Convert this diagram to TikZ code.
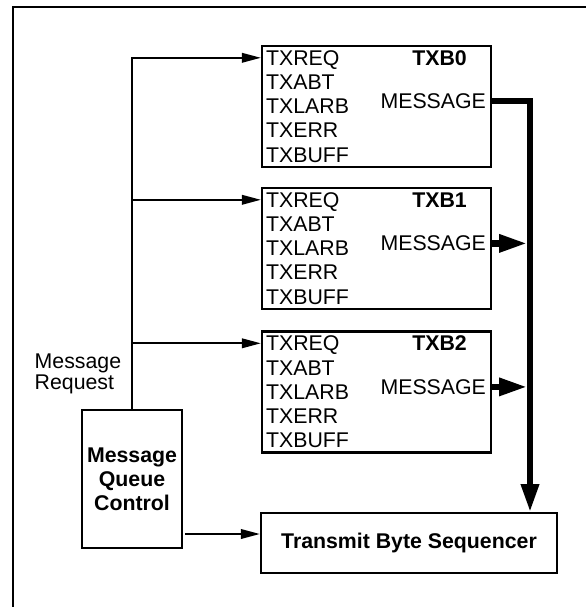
\documentclass[tikz,border=0pt]{standalone}
\usepackage{fontspec}
\setmainfont{Liberation Sans}
\usetikzlibrary{arrows.meta,positioning}

\begin{document}
\begin{tikzpicture}[x=1pt,y=-1pt,
  box/.style={draw,line width=2.2pt,inner sep=0pt},
  txt/.style={inner sep=0pt,font=\fontsize{21.3}{24.2}\selectfont},
  lst/.style={txt,align=left,anchor=north west},
  ttl/.style={txt,font=\fontsize{21.3}{24}\selectfont\bfseries,anchor=north},
  arr/.style={-{Triangle[length=19pt,width=9.5pt]},line width=2pt},
  bus/.style={-{Triangle[length=28pt,width=17pt]},line width=6.2pt,line join=miter}]
\useasboundingbox (0,0) rectangle (586,607);
\draw[line width=2.3pt] (13.2,607) -- (13.2,6.8) -- (586,6.8);
% transmit buffers
\node[box,minimum width=229pt,minimum height=121pt] (txb0) at (376.5,106.4) {};
\node[lst] (l0) at ([xshift=5pt,yshift=-5.5pt]txb0.north west) {TXREQ\\TXABT\\TXLARB\\TXERR\\TXBUFF};
\node[ttl] (t0) at ([xshift=63pt,yshift=-5.5pt]txb0.north) {TXB0};
\node[txt,anchor=east] (m0) at ([xshift=-6pt,yshift=5pt]txb0.east) {MESSAGE};
\coordinate (q0) at ([yshift=-13pt]txb0.north west);
\node[box,minimum width=229pt,minimum height=121pt] (txb1) at (376.5,248.4) {};
\node[lst] (l1) at ([xshift=5pt,yshift=-5.5pt]txb1.north west) {TXREQ\\TXABT\\TXLARB\\TXERR\\TXBUFF};
\node[ttl] (t1) at ([xshift=63pt,yshift=-5.5pt]txb1.north) {TXB1};
\node[txt,anchor=east] (m1) at ([xshift=-6pt,yshift=5pt]txb1.east) {MESSAGE};
\coordinate (q1) at ([yshift=-13pt]txb1.north west);
\node[box,minimum width=229pt,minimum height=121pt] (txb2) at (376.5,391.9) {};
\node[lst] (l2) at ([xshift=5pt,yshift=-5.5pt]txb2.north west) {TXREQ\\TXABT\\TXLARB\\TXERR\\TXBUFF};
\node[ttl] (t2) at ([xshift=63pt,yshift=-5.5pt]txb2.north) {TXB2};
\node[txt,anchor=east] (m2) at ([xshift=-6pt,yshift=5pt]txb2.east) {MESSAGE};
\coordinate (q2) at ([yshift=-13pt]txb2.north west);
% control and sequencer
\node[box,minimum width=100pt,minimum height=138pt,align=center,
  font=\fontsize{21.3}{24}\selectfont\bfseries] (mqc) at (132,479) {Message\\Queue\\Control};
\node[box,minimum width=296pt,minimum height=59.5pt,
  font=\fontsize{21.3}{24}\selectfont\bfseries] (tbs) at (409,543) {Transmit Byte Sequencer};
\node[txt,align=left,anchor=west,font=\fontsize{21.3}{21}\selectfont] (req) at (34.5,374) {Message\\Request};
% request lines
\draw[arr] (mqc.north) |- (q0);
\draw[arr] (mqc.north |- q1) -- (q1);
\draw[arr] (mqc.north |- q2) -- (q2);
\coordinate (tin) at ([yshift=9pt]tbs.west);
\draw[arr] ([xshift=2pt]mqc.east |- tin) -- (tin);
% message bus
\coordinate (busx) at (530,0);
\coordinate (busl) at (527,0);
\draw[bus] (txb0.east |- m0) -| (tbs.north -| busx);
\draw[bus] (txb1.east |- m1) -- (busl |- m1);
\draw[bus] (txb2.east |- m2) -- (busl |- m2);
\end{tikzpicture}
\end{document}
